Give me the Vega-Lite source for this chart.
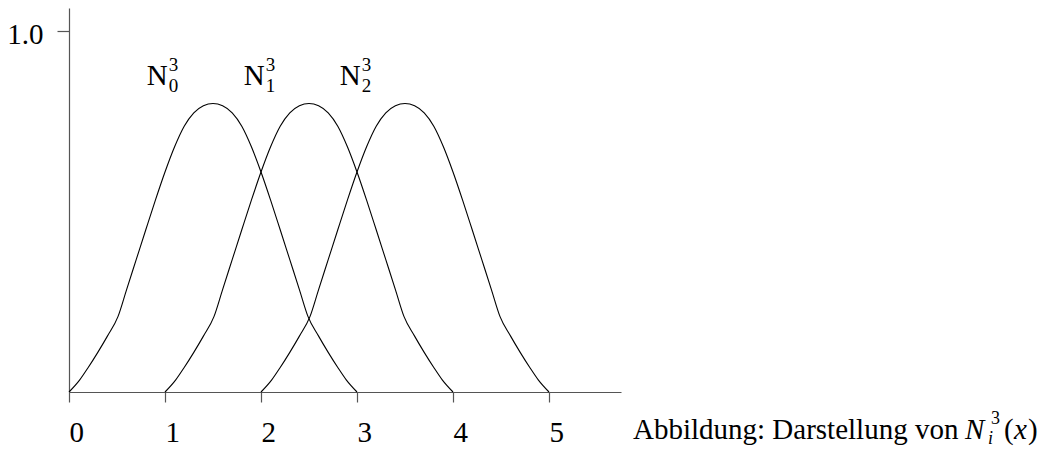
{
  "$schema": "https://vega.github.io/schema/vega-lite/v6.json",
  "width": 552,
  "height": 384,
  "autosize": {"type": "none"},
  "padding": {"left": 69, "top": 8, "right": 426, "bottom": 58},
  "background": "white",
  "config": {
    "view": {"stroke": null},
    "font": "Liberation Serif",
    "axis": {
      "domainColor": "#555555",
      "domainWidth": 1.2,
      "tickColor": "#555555",
      "tickWidth": 1.2,
      "labelColor": "black",
      "labelFont": "Liberation Serif",
      "labelFontSize": 29,
      "grid": false,
      "title": null
    }
  },
  "datasets": {
    "curves": [
      {"fn": "N0", "x": 0.0, "y": 0.0},
      {"fn": "N0", "x": 0.11, "y": 0.033},
      {"fn": "N0", "x": 0.2, "y": 0.068},
      {"fn": "N0", "x": 0.3, "y": 0.11},
      {"fn": "N0", "x": 0.4, "y": 0.155},
      {"fn": "N0", "x": 0.51, "y": 0.209},
      {"fn": "N0", "x": 0.6, "y": 0.284},
      {"fn": "N0", "x": 0.7, "y": 0.367},
      {"fn": "N0", "x": 0.8, "y": 0.45},
      {"fn": "N0", "x": 0.9, "y": 0.532},
      {"fn": "N0", "x": 1.0, "y": 0.61},
      {"fn": "N0", "x": 1.1, "y": 0.68},
      {"fn": "N0", "x": 1.2, "y": 0.737},
      {"fn": "N0", "x": 1.3, "y": 0.774},
      {"fn": "N0", "x": 1.4, "y": 0.794},
      {"fn": "N0", "x": 1.5, "y": 0.8},
      {"fn": "N0", "x": 1.6, "y": 0.794},
      {"fn": "N0", "x": 1.7, "y": 0.774},
      {"fn": "N0", "x": 1.8, "y": 0.737},
      {"fn": "N0", "x": 1.9, "y": 0.68},
      {"fn": "N0", "x": 2.0, "y": 0.61},
      {"fn": "N0", "x": 2.1, "y": 0.532},
      {"fn": "N0", "x": 2.2, "y": 0.45},
      {"fn": "N0", "x": 2.3, "y": 0.367},
      {"fn": "N0", "x": 2.4, "y": 0.284},
      {"fn": "N0", "x": 2.49, "y": 0.209},
      {"fn": "N0", "x": 2.6, "y": 0.155},
      {"fn": "N0", "x": 2.7, "y": 0.11},
      {"fn": "N0", "x": 2.8, "y": 0.068},
      {"fn": "N0", "x": 2.89, "y": 0.033},
      {"fn": "N0", "x": 3.0, "y": 0.0},

      {"fn": "N1", "x": 1.0, "y": 0.0},
      {"fn": "N1", "x": 1.11, "y": 0.033},
      {"fn": "N1", "x": 1.2, "y": 0.068},
      {"fn": "N1", "x": 1.3, "y": 0.11},
      {"fn": "N1", "x": 1.4, "y": 0.155},
      {"fn": "N1", "x": 1.51, "y": 0.209},
      {"fn": "N1", "x": 1.6, "y": 0.284},
      {"fn": "N1", "x": 1.7, "y": 0.367},
      {"fn": "N1", "x": 1.8, "y": 0.45},
      {"fn": "N1", "x": 1.9, "y": 0.532},
      {"fn": "N1", "x": 2.0, "y": 0.61},
      {"fn": "N1", "x": 2.1, "y": 0.68},
      {"fn": "N1", "x": 2.2, "y": 0.737},
      {"fn": "N1", "x": 2.3, "y": 0.774},
      {"fn": "N1", "x": 2.4, "y": 0.794},
      {"fn": "N1", "x": 2.5, "y": 0.8},
      {"fn": "N1", "x": 2.6, "y": 0.794},
      {"fn": "N1", "x": 2.7, "y": 0.774},
      {"fn": "N1", "x": 2.8, "y": 0.737},
      {"fn": "N1", "x": 2.9, "y": 0.68},
      {"fn": "N1", "x": 3.0, "y": 0.61},
      {"fn": "N1", "x": 3.1, "y": 0.532},
      {"fn": "N1", "x": 3.2, "y": 0.45},
      {"fn": "N1", "x": 3.3, "y": 0.367},
      {"fn": "N1", "x": 3.4, "y": 0.284},
      {"fn": "N1", "x": 3.49, "y": 0.209},
      {"fn": "N1", "x": 3.6, "y": 0.155},
      {"fn": "N1", "x": 3.7, "y": 0.11},
      {"fn": "N1", "x": 3.8, "y": 0.068},
      {"fn": "N1", "x": 3.89, "y": 0.033},
      {"fn": "N1", "x": 4.0, "y": 0.0},

      {"fn": "N2", "x": 2.0, "y": 0.0},
      {"fn": "N2", "x": 2.11, "y": 0.033},
      {"fn": "N2", "x": 2.2, "y": 0.068},
      {"fn": "N2", "x": 2.3, "y": 0.11},
      {"fn": "N2", "x": 2.4, "y": 0.155},
      {"fn": "N2", "x": 2.51, "y": 0.209},
      {"fn": "N2", "x": 2.6, "y": 0.284},
      {"fn": "N2", "x": 2.7, "y": 0.367},
      {"fn": "N2", "x": 2.8, "y": 0.45},
      {"fn": "N2", "x": 2.9, "y": 0.532},
      {"fn": "N2", "x": 3.0, "y": 0.61},
      {"fn": "N2", "x": 3.1, "y": 0.68},
      {"fn": "N2", "x": 3.2, "y": 0.737},
      {"fn": "N2", "x": 3.3, "y": 0.774},
      {"fn": "N2", "x": 3.4, "y": 0.794},
      {"fn": "N2", "x": 3.5, "y": 0.8},
      {"fn": "N2", "x": 3.6, "y": 0.794},
      {"fn": "N2", "x": 3.7, "y": 0.774},
      {"fn": "N2", "x": 3.8, "y": 0.737},
      {"fn": "N2", "x": 3.9, "y": 0.68},
      {"fn": "N2", "x": 4.0, "y": 0.61},
      {"fn": "N2", "x": 4.1, "y": 0.532},
      {"fn": "N2", "x": 4.2, "y": 0.45},
      {"fn": "N2", "x": 4.3, "y": 0.367},
      {"fn": "N2", "x": 4.4, "y": 0.284},
      {"fn": "N2", "x": 4.49, "y": 0.209},
      {"fn": "N2", "x": 4.6, "y": 0.155},
      {"fn": "N2", "x": 4.7, "y": 0.11},
      {"fn": "N2", "x": 4.8, "y": 0.068},
      {"fn": "N2", "x": 4.89, "y": 0.033},
      {"fn": "N2", "x": 5.0, "y": 0.0}
    ],
    "names": [
      {"base": "N", "sub": "0", "sup": "3", "x": 0.81, "y": 0.852},
      {"base": "N", "sub": "1", "sup": "3", "x": 1.82, "y": 0.852},
      {"base": "N", "sub": "2", "sup": "3", "x": 2.82, "y": 0.852}
    ],
    "caption": [
      {"text": "Abbildung: Darstellung von", "base": "N", "sub": "i", "sup": "3", "arg": "x", "x": 5.875, "y": -0.13}
    ]
  },
  "layer": [
    {
      "data": {"name": "curves"},
      "mark": {"type": "line", "color": "black", "strokeWidth": 1.1, "interpolate": "monotone"},
      "encoding": {
        "x": {
          "field": "x", "type": "quantitative",
          "scale": {"domain": [0, 5.75], "nice": false, "zero": false},
          "axis": {"values": [0, 1, 2, 3, 4, 5], "format": "d", "tickSize": 10, "labelAlign": "left", "labelBaseline": "alphabetic", "labelPadding": 39}
        },
        "y": {
          "field": "y", "type": "quantitative",
          "scale": {"domain": [0, 1.065], "nice": false},
          "axis": {"values": [1.0], "format": ".1f", "tickSize": 12, "labelPadding": 14, "labelBaseline": "middle", "labelOffset": 3}
        },
        "detail": {"field": "fn"}
      }
    },
    {
      "data": {"name": "names"},
      "mark": {"type": "text", "align": "left", "baseline": "alphabetic", "fontSize": 29, "font": "Liberation Serif", "color": "black"},
      "encoding": {
        "x": {"field": "x", "type": "quantitative"},
        "y": {"field": "y", "type": "quantitative"},
        "text": {"field": "base"}
      }
    },
    {
      "data": {"name": "names"},
      "mark": {"type": "text", "align": "left", "baseline": "alphabetic", "fontSize": 19, "font": "Liberation Serif", "color": "black", "dx": 22, "dy": -14},
      "encoding": {
        "x": {"field": "x", "type": "quantitative"},
        "y": {"field": "y", "type": "quantitative"},
        "text": {"field": "sup"}
      }
    },
    {
      "data": {"name": "names"},
      "mark": {"type": "text", "align": "left", "baseline": "alphabetic", "fontSize": 19, "font": "Liberation Serif", "color": "black", "dx": 22, "dy": 7},
      "encoding": {
        "x": {"field": "x", "type": "quantitative"},
        "y": {"field": "y", "type": "quantitative"},
        "text": {"field": "sub"}
      }
    },
    {
      "data": {"name": "caption"},
      "mark": {"type": "text", "align": "left", "baseline": "alphabetic", "fontSize": 29, "font": "Liberation Serif", "color": "black"},
      "encoding": {
        "x": {"field": "x", "type": "quantitative"},
        "y": {"field": "y", "type": "quantitative"},
        "text": {"field": "text"}
      }
    },
    {
      "data": {"name": "caption"},
      "mark": {"type": "text", "align": "left", "baseline": "alphabetic", "fontSize": 29, "font": "Liberation Serif", "fontStyle": "italic", "color": "black", "dx": 332},
      "encoding": {
        "x": {"field": "x", "type": "quantitative"},
        "y": {"field": "y", "type": "quantitative"},
        "text": {"field": "base"}
      }
    },
    {
      "data": {"name": "caption"},
      "mark": {"type": "text", "align": "left", "baseline": "alphabetic", "fontSize": 18, "font": "Liberation Serif", "color": "black", "dx": 358, "dy": -15},
      "encoding": {
        "x": {"field": "x", "type": "quantitative"},
        "y": {"field": "y", "type": "quantitative"},
        "text": {"field": "sup"}
      }
    },
    {
      "data": {"name": "caption"},
      "mark": {"type": "text", "align": "left", "baseline": "alphabetic", "fontSize": 18, "font": "Liberation Serif", "fontStyle": "italic", "color": "black", "dx": 355, "dy": 5},
      "encoding": {
        "x": {"field": "x", "type": "quantitative"},
        "y": {"field": "y", "type": "quantitative"},
        "text": {"field": "sub"}
      }
    },
    {
      "data": {"name": "caption"},
      "mark": {"type": "text", "align": "left", "baseline": "alphabetic", "fontSize": 29, "font": "Liberation Serif", "color": "black", "dx": 371},
      "encoding": {
        "x": {"field": "x", "type": "quantitative"},
        "y": {"field": "y", "type": "quantitative"},
        "text": {"value": "("}
      }
    },
    {
      "data": {"name": "caption"},
      "mark": {"type": "text", "align": "left", "baseline": "alphabetic", "fontSize": 29, "font": "Liberation Serif", "fontStyle": "italic", "color": "black", "dx": 381},
      "encoding": {
        "x": {"field": "x", "type": "quantitative"},
        "y": {"field": "y", "type": "quantitative"},
        "text": {"field": "arg"}
      }
    },
    {
      "data": {"name": "caption"},
      "mark": {"type": "text", "align": "left", "baseline": "alphabetic", "fontSize": 29, "font": "Liberation Serif", "color": "black", "dx": 395},
      "encoding": {
        "x": {"field": "x", "type": "quantitative"},
        "y": {"field": "y", "type": "quantitative"},
        "text": {"value": ")"}
      }
    }
  ]
}
